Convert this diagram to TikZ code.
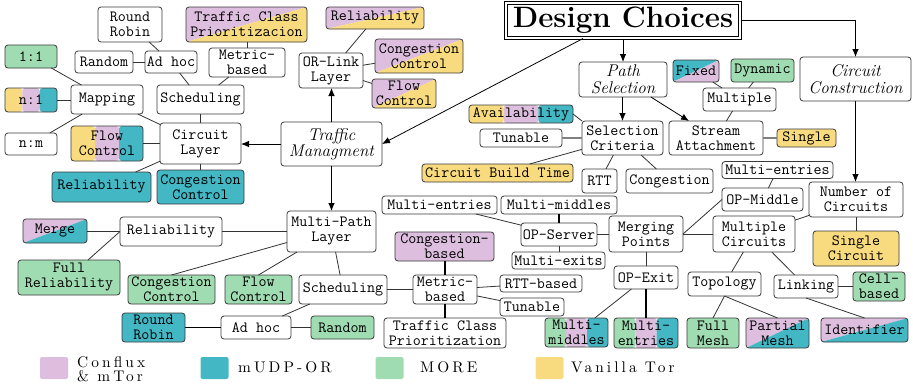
\documentclass[tikz,border=0pt]{standalone}
\usepackage{fontspec}
\newfontfamily\legfont[LetterSpace=20]{lmroman10-regular.otf}
\usetikzlibrary{arrows.meta,calc}
\definecolor{cpink}{HTML}{DDBEDE}
\definecolor{cteal}{HTML}{43B7C4}
\definecolor{cgreen}{HTML}{A0DCB2}
\definecolor{cyel}{HTML}{F9DB7F}
\definecolor{edgec}{HTML}{333333}
\definecolor{bordc}{HTML}{3A3A3A}
\tikzset{
 box/.style={draw=bordc, line width=0.8pt, rounded corners=3pt, fill=white, align=center,
   inner sep=1pt, outer sep=0pt, font=\fontsize{15.6}{15}\selectfont\ttfamily},
 ibox/.style={box, font=\fontsize{17}{16.5}\selectfont\itshape},
 sz/.style 2 args={minimum width=#1pt, minimum height=#2pt},
 diag/.style 2 args={path picture={
   \fill[#1] (path picture bounding box.north west) -- (path picture bounding box.north east) -- (path picture bounding box.south west) -- cycle;
   \fill[#2] (path picture bounding box.north east) -- (path picture bounding box.south east) -- (path picture bounding box.south west) -- cycle;}},
 stripes/.style n args={3}{path picture={
   \fill[#1] let \p1=(path picture bounding box.south west), \p2=(path picture bounding box.north east) in
     (\x1,\y1) rectangle ({\x1+(\x2-\x1)/3},\y2);
   \fill[#2] let \p1=(path picture bounding box.south west), \p2=(path picture bounding box.north east) in
     ({\x1+(\x2-\x1)/3},\y1) rectangle ({\x1+2*(\x2-\x1)/3},\y2);
   \fill[#3] let \p1=(path picture bounding box.south west), \p2=(path picture bounding box.north east) in
     ({\x1+2*(\x2-\x1)/3},\y1) rectangle (\x2,\y2);}},
 ln/.style={draw=edgec, line width=0.8pt},
 tk/.style={draw=black, line width=1.8pt},
 gl/.style={draw=black!50, line width=1.5pt},
 arr/.style={draw=black, line width=0.8pt, -{Latex[length=8pt,width=6.5pt]}},
 legsq/.style={rounded corners=2pt, minimum width=28pt, minimum height=22pt, inner sep=0pt},
 legtxt/.style={anchor=base west, align=left, inner sep=0pt, font=\fontsize{15.4}{14}\selectfont\legfont},
}
\begin{document}
\begin{tikzpicture}[x=1pt,y=-1pt]
\useasboundingbox (0,0) rectangle (913,386);

% ---- title and top level
\node[draw=black, double, double distance=2pt, line width=1pt, minimum width=234pt, minimum height=35pt,
  inner sep=0pt, font=\fontsize{29.5}{30}\selectfont\bfseries] (dc) at (623,20.5) {Design Choices};
\node[ibox, sz={101}{44}] (tm) at (331.5,144) {Traffic\\Managment};
\node[ibox, sz={88}{35}] (ps) at (623,79.5) {Path\\Selection};
\node[ibox, sz={111}{44}] (cc) at (855.5,79) {Circuit\\Construction};

% ---- circuit layer group
\node[box, sz={64}{35}] (rr1) at (130,24.5) {Round\\Robin};
\node[box, sz={58}{22}] (rand1) at (104,62) {Random};
\node[box, sz={52}{22}] (ah1) at (171,62) {Ad hoc};
\node[box, sz={121}{35}, diag={cpink}{cyel}] (tcp1) at (246.5,24.5) {Traffic Class\\Prioritizacion};
\node[box, sz={76}{29}] (mb1) at (247,62.5) {Metric-\\based};
\node[box, sz={52}{23}, fill=cgreen] (o11) at (31,56.5) {1:1};
\node[box, sz={52}{24}, stripes={cyel}{cpink}{cteal}] (n1) at (31,100) {n:1};
\node[box, sz={52}{22}] (nm) at (31,144) {n:m};
\node[box, sz={72}{29}] (map) at (107,99.5) {Mapping};
\node[box, sz={87}{29}] (sch1) at (200.5,99.5) {Scheduling};
\node[box, sz={72}{35}, stripes={cyel}{cpink}{cteal}] (fc1) at (107,143.5) {Flow\\Control};
\node[box, sz={81}{41}] (cl) at (200.5,143.5) {Circuit\\Layer};
\node[box, sz={99}{30}, fill=cteal] (rel1) at (101.5,187) {Reliability};
\node[box, sz={87}{34}, fill=cteal] (cc1) at (200.5,187) {Congestion\\Control};

% ---- OR-link layer group
\node[box, sz={64}{35}] (orl) at (331,70.5) {OR-Link\\Layer};
\node[box, sz={98}{22}, diag={cpink}{cyel}] (rel2) at (375,18) {Reliability};
\node[box, sz={88}{34}, diag={cpink}{cyel}] (cc2) at (419,56) {Congestion\\Control};
\node[box, sz={64}{29}, diag={cpink}{cyel}] (fc2) at (404,93.5) {Flow\\Control};

% ---- path selection group
\node[box, sz={46}{22}, diag={cteal}{cpink}] (fix) at (696,71) {Fixed};
\node[box, sz={63}{23}, fill=cgreen] (dyn) at (762.5,70.5) {Dynamic};
\node[box, sz={73}{23}] (mult) at (739.5,99.5) {Multiple};
\node[box, sz={81}{34}] (sc) at (622.5,138) {Selection\\Criteria};
\node[box, sz={94}{34}] (sa) at (716,138) {Stream\\Attachment};
\node[box, sz={59}{18}, fill=cyel] (sing) at (806.5,138) {Single};
\node[box, sz={104}{18}, stripes={cyel}{cpink}{cteal}] (avail) at (521,114) {Availability};
\node[box, sz={82}{18}] (tun1) at (521,138) {Tunable};
\node[box, sz={151}{18}, fill=cyel] (cbt) at (497.5,173) {Circuit Build Time};
\node[box, sz={35}{24}] (rtt) at (599.5,181) {RTT};
\node[box, sz={87}{24}] (cong) at (669.5,181) {Congestion};

% ---- circuit construction group
\node[box, sz={111}{17}] (me2) at (777.5,170) {Multi-entries};
\node[box, sz={81}{23}] (opm) at (762.5,199.5) {OP-Middle};
\node[box, sz={94}{35}] (noc) at (856,199.5) {Number of\\Circuits};
\node[box, sz={74}{36}] (mp) at (646,234) {Merging\\Points};
\node[box, sz={82}{36}] (mc) at (754,234) {Multiple\\Circuits};
\node[box, sz={86}{35}, fill=cyel] (scir) at (856,248.5) {Single\\Circuit};
\node[box, sz={64}{23}] (ope) at (646,277.5) {OP-Exit};
\node[box, sz={73}{24}] (topo) at (724.5,284) {Topology};
\node[box, sz={64}{23}] (link) at (806,286.5) {Linking};
\node[box, sz={52}{29}, fill=cgreen] (cell) at (879,286.5) {Cell-\\based};
\node[box, sz={63}{29}, stripes={cgreen}{cpink}{cteal}] (mmb) at (576.5,332.5) {Multi-\\middles};
\node[box, sz={64}{30}, stripes={cgreen}{cpink}{cteal}] (meb) at (646,333) {Multi-\\entries};
\node[box, sz={52}{30}, fill=cgreen] (fm) at (713,333) {Full\\Mesh};
\node[box, sz={63}{30}, diag={cpink}{cteal}] (pm) at (777.5,333) {Partial\\Mesh};
\node[box, sz={87}{24}, diag={cpink}{cteal}] (ident) at (864.5,330) {Identifier};

% ---- OP-server group
\node[box, sz={115}{18}] (me1) at (439.5,205) {Multi-entries};
\node[box, sz={116}{18}] (mm1) at (559,205) {Multi-middles};
\node[box, sz={76}{23}] (ops) at (559,234.5) {OP-Server};
\node[box, sz={93}{17}] (mex) at (558.5,260.5) {Multi-exits};

% ---- multi-path layer group
\node[box, sz={89}{41}] (mpl) at (331.5,231.5) {Multi-Path\\Layer};
\node[box, sz={99}{29}, fill=cpink] (cgb) at (444.5,246.5) {Congestion-\\based};
\node[box, sz={64}{29}] (mb2) at (445,289.5) {Metric-\\based};
\node[box, sz={82}{17}] (rttb) at (541,283.5) {RTT-based};
\node[box, sz={64}{18}] (tun2) at (532,307) {Tunable};
\node[box, sz={122}{30}] (tcp2) at (445,333) {Traffic Class\\Prioritization};
\node[box, sz={88}{29}] (sch2) at (343,289.5) {Scheduling};
\node[box, sz={63}{23}, fill=cgreen] (rand2) at (342.5,327.5) {Random};
\node[box, sz={70}{23}] (ah2) at (256,327.5) {Ad hoc};
\node[box, sz={63}{29}, fill=cteal] (rr2) at (153.5,327.5) {Round\\Robin};
\node[box, sz={102}{29}] (rel3) at (171,231.5) {Reliability};
\node[box, sz={64}{24}, diag={cpink}{cteal}] (merge) at (55,231) {Merge};
\node[box, sz={102}{35}, fill=cgreen] (frel) at (69,277.5) {Full\\Reliability};
\node[box, sz={87}{29}, fill=cgreen] (cc3) at (171.5,289.5) {Congestion\\Control};
\node[box, sz={67}{29}, fill=cgreen] (fc3) at (258.5,289.5) {Flow\\Control};

% ---- legend
\node[legsq, fill=cpink] (lq1) at (54,368) {};
\node[legtxt] (lt1) at (77,381) {Conflux\\\& mTor};
\node[legsq, fill=cteal] (lq2) at (214.5,368) {};
\node[legtxt] (lt2) at (238,372.5) {mUDP-OR};
\node[legsq, fill=cgreen] (lq3) at (389.5,368) {};
\node[legtxt] (lt3) at (420,372.5) {MORE};
\node[legsq, fill=cyel] (lq4) at (549.5,368) {};
\node[legtxt] (lt4) at (571,372.5) {Vanilla Tor};

% ---- arrows
\draw[arr] (dc.south -| ps.north) -- (ps.north);
\draw[arr] (dc.east) -| (cc.north);
\draw[arr] ([xshift=-40pt]dc.south) -- (tm.east);
\draw[arr] (ps.south -| sc.north) -- (sc.north);
\draw[arr] (ps) -- (sa);
\draw[arr] (cc.south) -- (noc.north -| cc.south);
\draw[arr] (tm.west) -- (cl.east |- tm.west);
\draw[arr] (tm.north) -- (orl.south -| tm.north);
\draw[arr] (tm.south) -- (mpl.north -| tm.south);

% ---- circuit layer edges
\draw[ln] (rr1) -- (ah1);
\draw[ln] (rand1) -- (ah1);
\draw[ln] (ah1) -- (sch1);
\draw[ln] (mb1.north) -- (mb1.north |- tcp1.south);
\draw[ln] (mb1) -- (sch1);
\draw[ln] (o11) -- (map);
\draw[ln] (n1.east) -- (map.west |- n1.east);
\draw[ln] (nm) -- (map);
\draw[ln] (map) -- (cl);
\draw[ln] (sch1.south) -- (cl.north);
\draw[ln] (fc1.east) -- (cl.west |- fc1.east);
\draw[ln] (rel1) -- (cl);
\draw[ln] (cc1.north) -- (cl.south);

% ---- OR-link edges
\draw[ln] (orl) -- (rel2);
\draw[ln] (orl) -- (cc2);
\draw[ln] (orl) -- (fc2);

% ---- path selection edges
\draw[ln] (mult) -- (fix);
\draw[ln] (mult) -- (dyn);
\draw[ln] (mult) -- (sa);
\draw[gl] (sa.east) -- (sing.west);
\draw[ln] (sc.north west) -- (avail.east);
\draw[gl] (sc.west |- tun1.east) -- (tun1.east);
\draw[ln] (sc) -- (cbt);
\draw[ln] (sc) -- (rtt);
\draw[ln] (sc) -- (cong);

% ---- circuit construction edges
\draw[ln] (noc) -- (mc);
\draw[ln] (noc.south) -- (scir.north -| noc.south);
\draw[ln] (mc.west) -- (mp.east);
\draw[ln] (mc) -- (topo);
\draw[ln] (mc) -- (link);
\draw[ln] (me2) -- (opm);
\draw[ln] (opm.west) -- (mp.east);
\draw[ln] (ops.east) -- (mp.west |- ops.east);
\draw[ln] (me1) -- (ops);
\draw[tk] (mm1.south -| ops.north) -- (ops.north);
\draw[ln] (ops.south) -- (mex.north -| ops.south);
\draw[ln] (mp.south) -- (ope.north);
\draw[ln] (ope) -- (mmb);
\draw[tk] (ope.south) -- (meb.north);
\draw[ln] (topo.south) -- (fm.north);
\draw[ln] (topo.south) -- (pm.north);
\draw[ln] (link.east) -- (cell.west |- link.east);
\draw[ln] (link.south) -- (ident.north);

% ---- multi-path edges
\draw[ln] (mpl.west) -- (rel3.east |- mpl.west);
\draw[ln] ([yshift=-11pt]mpl.west) -- (cc3.north);
\draw[ln] ([xshift=10pt]mpl.south west) -- (fc3.north);
\draw[ln] (mpl) -- (sch2);
\draw[ln] (rel3.west) -- (merge.east |- rel3.west);
\draw[ln] (rel3.west) -- ([xshift=19pt]frel.north);
\draw[ln] (sch2.east) -- (mb2.west);
\draw[ln] (sch2) -- (ah2);
\draw[ln] (ah2.east) -- (rand2.west |- ah2.east);
\draw[tk] (ah2.west) -- (rr2.east |- ah2.west);
\draw[tk] (mb2.north) -- (cgb.south -| mb2.north);
\draw[tk] (mb2.south) -- (tcp2.north -| mb2.south);
\draw[ln] (mb2) -- (rttb);
\draw[ln] (mb2) -- (tun2);
\end{tikzpicture}
\end{document}
